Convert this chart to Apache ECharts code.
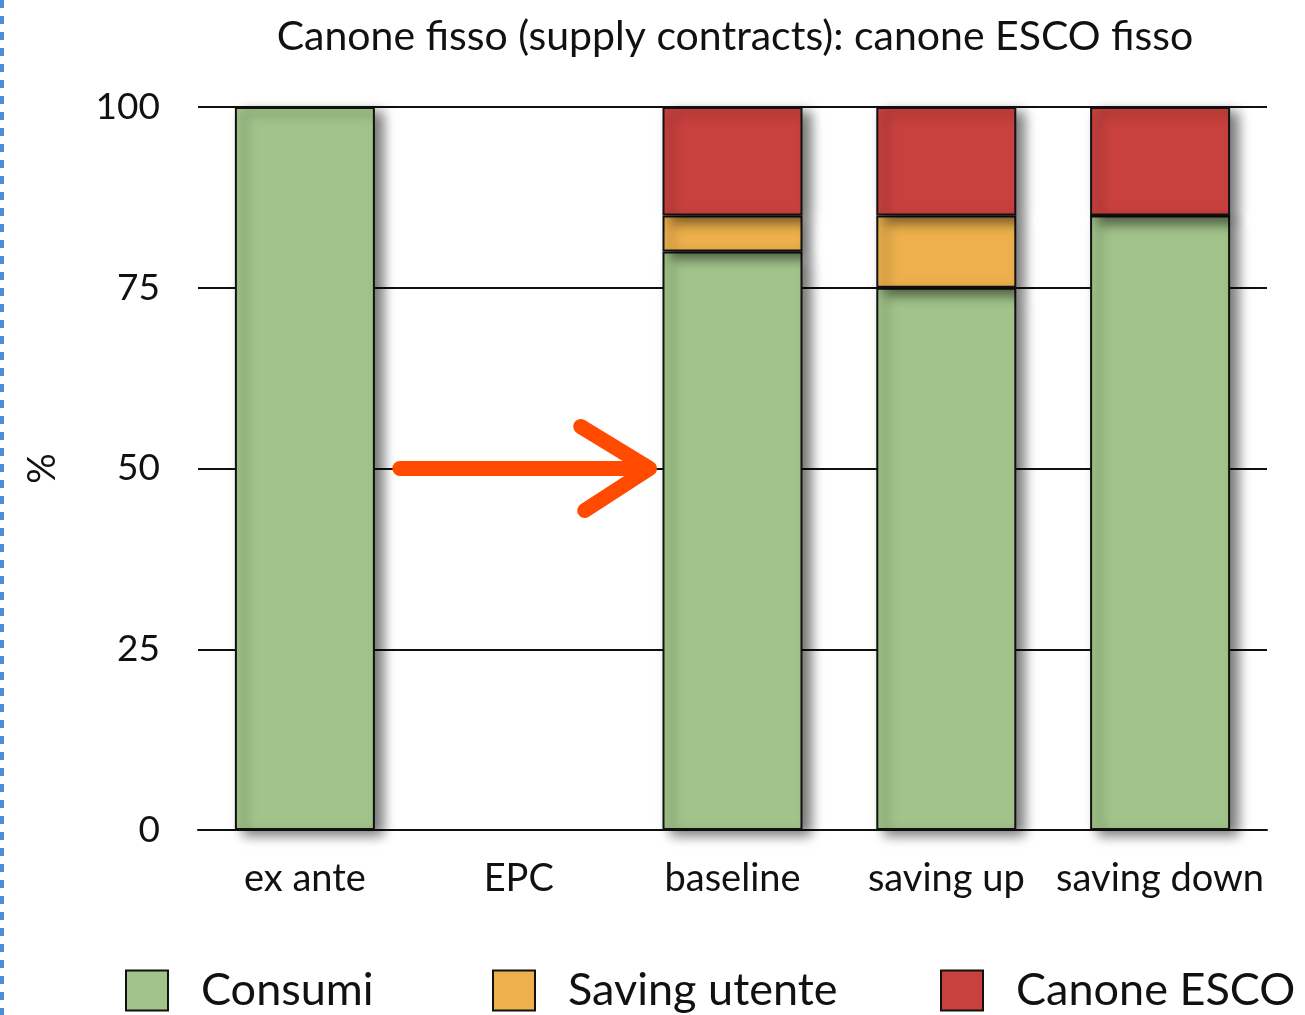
<!DOCTYPE html>
<html>
<head>
<meta charset="utf-8">
<script src="https://cdn.jsdelivr.net/npm/echarts@6/dist/echarts.min.js"></script>
<style>
html, body { margin: 0; padding: 0; background: #fff; }
#chart { width: 1305px; height: 1015px; }
</style>
</head>
<body>
<div id="chart"></div>
<script>
var categories = ['ex ante', 'EPC', 'baseline', 'saving up', 'saving down'];
var consumi = [100, null, 80, 75, 85];
var savingUtente = [null, null, 5, 10, 0];
var canoneEsco = [null, null, 15, 15, 15];
var yTicks = [0, 25, 50, 75, 100];

var font = 'Lato, "Open Sans", sans-serif';
var chart = echarts.init(document.getElementById('chart'));

function barSeries(name, data, color){
    return {
        name: name,
        type: 'bar',
        stack: 'tot',
        barWidth: 140,
        data: data,
        itemStyle: {
            color: color,
            borderColor: '#111',
            borderWidth: 2,
            shadowColor: 'rgba(0,0,0,0.55)',
            shadowBlur: 12,
            shadowOffsetX: 8,
            shadowOffsetY: 5
        },
        emphasis: { disabled: true }
    };
}

function legendAt(name, left){
    return {
        data: [name],
        icon: 'rect',
        left: left,
        top: 968,
        padding: 0,
        itemWidth: 42,
        itemHeight: 40,
        itemGap: 0,
        textStyle: { fontFamily: font, fontSize: 45, color: '#111', padding: [0, 0, 0, 28] }
    };
}

var option = {
    animation: false,
    title: {
        text: 'Canone fisso (supply contracts): canone ESCO fisso',
        left: 730,
        textAlign: 'center',
        top: 11,
        textStyle: { fontFamily: font, fontSize: 41, fontWeight: 'normal', color: '#111' }
    },
    legend: [
        legendAt('Consumi', 125),
        legendAt('Saving utente', 492),
        legendAt('Canone ESCO', 940)
    ],
    grid: { left: 198, right: 38, top: 107, bottom: 185 },
    xAxis: {
        type: 'category',
        data: categories,
        axisLine: { lineStyle: { color: '#111', width: 2 } },
        axisTick: { show: false },
        axisLabel: { interval: 0, fontFamily: font, fontSize: 38, color: '#111', margin: 30 }
    },
    yAxis: {
        type: 'value',
        min: 0,
        max: 100,
        interval: 25,
        name: '%',
        nameLocation: 'middle',
        nameGap: 136,
        nameTextStyle: { fontFamily: font, fontSize: 38, color: '#111' },
        axisLine: { show: false },
        axisTick: { show: false },
        axisLabel: {
            fontFamily: font, fontSize: 37, color: '#111', margin: 38,
            formatter: function(v){ return yTicks.indexOf(v) >= 0 ? String(v) : ''; }
        },
        splitLine: { lineStyle: { color: '#111', width: 2 } }
    },
    series: [
        barSeries('Consumi', consumi, '#a2c48a'),
        barSeries('Saving utente', savingUtente, '#edb04d'),
        barSeries('Canone ESCO', canoneEsco, '#c9413e')
    ]
};
chart.setOption(option);

// orange arrow from ex ante to baseline at 50%
var pA = chart.convertToPixel({ gridIndex: 0 }, ['ex ante', 50]);
var pB = chart.convertToPixel({ gridIndex: 0 }, ['baseline', 50]);
var span = pB[0] - pA[0];
var x0 = pA[0] + span * 0.222;
var tip = pA[0] + span * 0.806;
var back = pA[0] + span * 0.645;
var y = pA[1];
var arrowStyle = { stroke: '#ff4a00', lineWidth: 15, lineCap: 'round', lineJoin: 'round', fill: null };
chart.setOption({
    graphic: [
        {
            type: 'line',
            shape: { x1: 2, y1: 0, x2: 2, y2: 1015 },
            style: { stroke: '#4a90d9', lineWidth: 4, lineDash: [8, 8] }
        },
        {
            type: 'polyline',
            z: 100,
            shape: { points: [[x0, y], [tip - 10, y]] },
            style: arrowStyle
        },
        {
            type: 'polyline',
            z: 100,
            shape: { points: [[back, y - 42], [tip, y], [back + 4, y + 42]] },
            style: arrowStyle
        }
    ]
});

window.onresize = function(){
    chart.resize();
};
</script>
</body>
</html>
